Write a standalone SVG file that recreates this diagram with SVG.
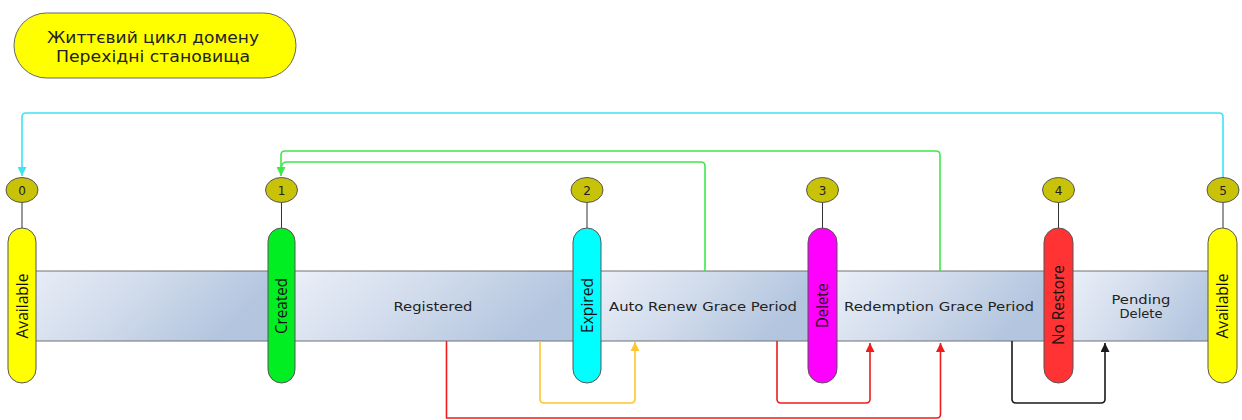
<svg xmlns="http://www.w3.org/2000/svg" width="1242" height="420" viewBox="0 0 1242 420">
<defs>
  <linearGradient id="seg" x1="0" y1="0" x2="1" y2="0.3">
    <stop offset="0" stop-color="#eaeff8"/>
    <stop offset="0.55" stop-color="#ced9ea"/>
    <stop offset="1" stop-color="#b3c5df"/>
  </linearGradient>
  <marker id="aCyan" viewBox="0 0 10 10" refX="10" refY="5" markerWidth="9" markerHeight="9" markerUnits="userSpaceOnUse" orient="auto"><path d="M0,0 L10,5 L0,10 z" fill="#3ee3f0"/></marker>
  <marker id="aGreen" viewBox="0 0 10 10" refX="10" refY="5" markerWidth="9" markerHeight="9" markerUnits="userSpaceOnUse" orient="auto"><path d="M0,0 L10,5 L0,10 z" fill="#3ee84a"/></marker>
  <marker id="aOrange" viewBox="0 0 10 10" refX="10" refY="5" markerWidth="9" markerHeight="9" markerUnits="userSpaceOnUse" orient="auto"><path d="M0,0 L10,5 L0,10 z" fill="#ffc52e"/></marker>
  <marker id="aRed" viewBox="0 0 10 10" refX="10" refY="5" markerWidth="9" markerHeight="9" markerUnits="userSpaceOnUse" orient="auto"><path d="M0,0 L10,5 L0,10 z" fill="#ee1c1c"/></marker>
  <marker id="aBlack" viewBox="0 0 10 10" refX="10" refY="5" markerWidth="9" markerHeight="9" markerUnits="userSpaceOnUse" orient="auto"><path d="M0,0 L10,5 L0,10 z" fill="#1a1a1a"/></marker>
</defs>
<style>
  .pill { stroke: #555; stroke-width: 1; }
  .num { fill: #c8c209; stroke: #555; stroke-width: 1; }
  .numt { font-family: "DejaVu Sans", sans-serif; font-size: 12px; fill: #222; text-anchor: middle; }
  .stem { stroke: #333; stroke-width: 1; }
  .plab { font-family: "Open Sans", "Liberation Sans", sans-serif; font-size: 16px; fill: #111; text-anchor: middle; }
  .blab { font-family: "DejaVu Sans", sans-serif; font-size: 12.5px; fill: #222; text-anchor: middle; }
  .conn { fill: none; stroke-width: 1.6; }
  .title { font-family: "DejaVu Sans", sans-serif; font-size: 15px; fill: #222; text-anchor: middle; }
</style>
<rect width="1242" height="420" fill="#ffffff"/>

<g id="title">
  <rect x="14" y="13" width="282" height="65" rx="32.5" fill="#ffff00" stroke="#666" stroke-width="1"/>
  <text class="title" x="153" y="43" textLength="212" lengthAdjust="spacingAndGlyphs">Життєвий цикл домену</text>
  <text class="title" x="153" y="62" textLength="194" lengthAdjust="spacingAndGlyphs">Перехідні становища</text>
</g>

<g id="band">
  <rect x="22" y="271" width="246" height="70" fill="url(#seg)"/>
  <rect x="295" y="271" width="278" height="70" fill="url(#seg)"/>
  <rect x="602" y="271" width="206" height="70" fill="url(#seg)"/>
  <rect x="837" y="271" width="207" height="70" fill="url(#seg)"/>
  <rect x="1073" y="271" width="149" height="70" fill="url(#seg)"/>
  <line x1="22" y1="271" x2="1222" y2="271" stroke="#707070" stroke-width="1"/>
  <line x1="22" y1="341" x2="1222" y2="341" stroke="#707070" stroke-width="1"/>
  <text class="blab" x="433" y="311" textLength="79" lengthAdjust="spacingAndGlyphs">Registered</text>
  <text class="blab" x="703" y="311" textLength="188" lengthAdjust="spacingAndGlyphs">Auto Renew Grace Period</text>
  <text class="blab" x="939" y="311" textLength="190" lengthAdjust="spacingAndGlyphs">Redemption Grace Period</text>
  <text class="blab" x="1141" y="304" textLength="59" lengthAdjust="spacingAndGlyphs">Pending</text>
  <text class="blab" x="1141" y="318" textLength="43" lengthAdjust="spacingAndGlyphs">Delete</text>
</g>

<g id="connectors">
  <path class="conn" stroke="#3ee3f0" d="M1223,178 V117 Q1223,113 1219,113 H26 Q22,113 22,117 V176" marker-end="url(#aCyan)"/>
  <path class="conn" stroke="#3ee84a" d="M940,271 V155 Q940,151 936,151 H285 Q281,151 281,155 V176" marker-end="url(#aGreen)"/>
  <path class="conn" stroke="#3ee84a" d="M705,271 V166 Q705,162 701,162 H287 Q282,162 281.5,167"/>
  <path class="conn" stroke="#ffc52e" d="M540,341 V399 Q540,403 544,403 H631 Q635,403 635,399 V342" marker-end="url(#aOrange)"/>
  <path class="conn" stroke="#ee1c1c" d="M446.5,341 V418 H937 Q940.5,418 940.5,414 V343" marker-end="url(#aRed)"/>
  <path class="conn" stroke="#ee1c1c" d="M777,341 V399 Q777,403 781,403 H866 Q870,403 870,399 V343" marker-end="url(#aRed)"/>
  <path class="conn" stroke="#1a1a1a" d="M1012,341 V399 Q1012,403 1016,403 H1101 Q1105,403 1105,399 V343" marker-end="url(#aBlack)"/>
</g>

<g id="n0">
  <line class="stem" x1="22" y1="202" x2="22" y2="228"/>
  <ellipse class="num" cx="22" cy="190" rx="16" ry="12.5"/>
  <text class="numt" x="22" y="194.5">0</text>
  <rect class="pill" x="8" y="228" width="28" height="155" rx="14" fill="#ffff00"/>
  <text class="plab" transform="translate(22,306) rotate(-90)" y="5.5" textLength="65" lengthAdjust="spacingAndGlyphs">Available</text>
</g>
<g id="n1">
  <line class="stem" x1="281.5" y1="202" x2="281.5" y2="228"/>
  <ellipse class="num" cx="281.5" cy="190" rx="16" ry="12.5"/>
  <text class="numt" x="281.5" y="194.5">1</text>
  <rect class="pill" x="268" y="228" width="27" height="155" rx="13.5" fill="#00ee22"/>
  <text class="plab" transform="translate(281.5,306) rotate(-90)" y="5.5" textLength="56" lengthAdjust="spacingAndGlyphs">Created</text>
</g>
<g id="n2">
  <line class="stem" x1="587" y1="202" x2="587" y2="228"/>
  <ellipse class="num" cx="587" cy="190" rx="16" ry="12.5"/>
  <text class="numt" x="587" y="194.5">2</text>
  <rect class="pill" x="573" y="228" width="28" height="155" rx="14" fill="#00ffff"/>
  <text class="plab" transform="translate(587,305.5) rotate(-90)" y="5.5" textLength="55" lengthAdjust="spacingAndGlyphs">Expired</text>
</g>
<g id="n3">
  <line class="stem" x1="822.5" y1="202" x2="822.5" y2="228" stroke="#888" stroke-width="1"/>
  <ellipse class="num" cx="822.5" cy="190" rx="16" ry="12.5"/>
  <text class="numt" x="822.5" y="194.5">3</text>
  <rect class="pill" x="808" y="228" width="29" height="155" rx="14.5" fill="#ff00ff"/>
  <text class="plab" transform="translate(822.5,305.5) rotate(-90)" y="5.5" textLength="45" lengthAdjust="spacingAndGlyphs">Delete</text>
</g>
<g id="n4">
  <line class="stem" x1="1058.5" y1="202" x2="1058.5" y2="228"/>
  <ellipse class="num" cx="1058.5" cy="190" rx="16" ry="12.5"/>
  <text class="numt" x="1058.5" y="194.5">4</text>
  <rect class="pill" x="1044" y="228" width="29" height="155" rx="14.5" fill="#ff3333"/>
  <text class="plab" transform="translate(1058.5,305) rotate(-90)" y="5.5" textLength="80" lengthAdjust="spacingAndGlyphs">No Restore</text>
</g>
<g id="n5">
  <line class="stem" x1="1223" y1="202" x2="1223" y2="228"/>
  <ellipse class="num" cx="1223" cy="190" rx="16" ry="12.5"/>
  <text class="numt" x="1223" y="194.5">5</text>
  <rect class="pill" x="1208" y="228" width="29" height="155" rx="14.5" fill="#ffff00"/>
  <text class="plab" transform="translate(1222.5,306) rotate(-90)" y="5.5" textLength="65" lengthAdjust="spacingAndGlyphs">Available</text>
</g>
</svg>
